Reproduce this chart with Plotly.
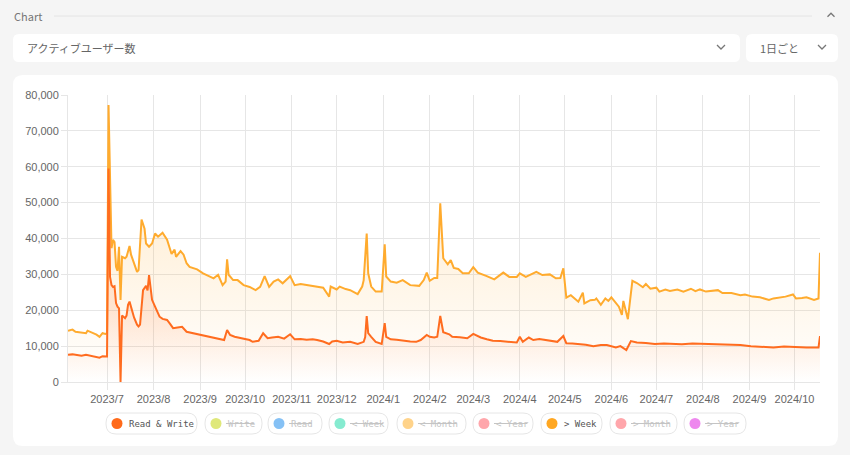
import plotly.graph_objects as go

# ---------------- data ----------------
rw_dates = ["2023-06-05","2023-06-08","2023-06-11","2023-06-14","2023-06-17","2023-06-20","2023-06-23","2023-06-26","2023-06-28","2023-06-30",
    "2023-07-01","2023-07-02","2023-07-03","2023-07-04","2023-07-05","2023-07-06","2023-07-07","2023-07-08","2023-07-09","2023-07-10",
    "2023-07-11","2023-07-12","2023-07-13","2023-07-14","2023-07-15","2023-07-16","2023-07-17","2023-07-19","2023-07-21","2023-07-22",
    "2023-07-23","2023-07-24","2023-07-25","2023-07-27","2023-07-28","2023-07-29","2023-07-31","2023-08-02","2023-08-05","2023-08-07",
    "2023-08-10","2023-08-12","2023-08-14","2023-08-17","2023-08-20","2023-08-23","2023-08-27","2023-09-01","2023-09-05","2023-09-10",
    "2023-09-14","2023-09-17","2023-09-19","2023-09-21","2023-09-24","2023-09-28","2023-10-01","2023-10-04","2023-10-06","2023-10-10",
    "2023-10-13","2023-10-16","2023-10-19","2023-10-23","2023-10-27","2023-10-31","2023-11-03","2023-11-07","2023-11-11","2023-11-15",
    "2023-11-18","2023-11-22","2023-11-26","2023-11-28","2023-12-01","2023-12-05","2023-12-10","2023-12-13","2023-12-15","2023-12-19",
    "2023-12-20","2023-12-21","2023-12-22","2023-12-24","2023-12-27","2023-12-31","2024-01-02","2024-01-03","2024-01-06","2024-01-10",
    "2024-01-14","2024-01-19","2024-01-23","2024-01-26","2024-01-30","2024-02-01","2024-02-04","2024-02-06","2024-02-08","2024-02-10",
    "2024-02-14","2024-02-16","2024-02-21","2024-02-26","2024-03-01","2024-03-06","2024-03-10","2024-03-14","2024-03-19","2024-03-23",
    "2024-03-30","2024-04-01","2024-04-03","2024-04-07","2024-04-10","2024-04-14","2024-04-21","2024-04-26","2024-04-30","2024-05-02",
    "2024-05-06","2024-05-11","2024-05-15","2024-05-20","2024-05-25","2024-05-29","2024-06-04","2024-06-07","2024-06-11","2024-06-14",
    "2024-06-18","2024-06-24","2024-06-30","2024-07-06","2024-07-12","2024-07-18","2024-07-25","2024-08-03","2024-08-10","2024-08-18",
    "2024-08-26","2024-09-02","2024-09-09","2024-09-17","2024-09-24","2024-10-01","2024-10-09","2024-10-17","2024-10-18"]
rw_values = [7600,7700,7500,7300,7600,7300,7100,6800,7200,7000,
    7100,59500,29300,27000,26500,26700,22000,21000,20500,0,
    18500,18200,17800,18500,21500,22400,21000,18000,16000,15500,
    16000,21000,25600,26800,25500,29800,22900,21000,18200,17600,
    17300,16200,15000,15200,15400,14000,13600,13100,12700,12200,
    11900,11700,14500,13100,12600,12200,11900,11700,11200,11500,
    13600,12200,12400,12600,12100,13300,11900,12000,11800,11900,
    11700,11300,10600,11300,11500,11000,11200,10900,10600,11200,
    12500,18400,13600,12600,11200,10600,16400,12600,11900,11800,
    11500,11300,11200,11700,13100,12600,12400,12600,18400,13900,
    13300,12600,12500,12200,13400,12400,11900,11500,11400,11200,
    11000,12600,11200,12400,11700,12000,11500,11200,12800,10800,
    10700,10600,10400,10000,10300,10300,9600,10000,8900,11400,
    11000,10900,10600,10700,10600,10500,10700,10600,10400,10500,
    10300,10000,9800,9600,9900,9700,9600,9600,12800]

wk_dates = ["2023-06-05","2023-06-08","2023-06-10","2023-06-13","2023-06-15","2023-06-17","2023-06-18","2023-06-21","2023-06-24","2023-06-26",
    "2023-06-28","2023-06-30","2023-07-01","2023-07-02","2023-07-04","2023-07-05","2023-07-06","2023-07-07","2023-07-08","2023-07-09",
    "2023-07-10","2023-07-11","2023-07-13","2023-07-14","2023-07-16","2023-07-17","2023-07-19","2023-07-21","2023-07-22","2023-07-24",
    "2023-07-26","2023-07-27","2023-07-29","2023-07-31","2023-08-02","2023-08-04","2023-08-07","2023-08-10","2023-08-13","2023-08-15",
    "2023-08-16","2023-08-19","2023-08-21","2023-08-23","2023-08-25","2023-08-30","2023-09-03","2023-09-07","2023-09-10","2023-09-13",
    "2023-09-16","2023-09-18","2023-09-19","2023-09-20","2023-09-23","2023-09-26","2023-09-30","2023-10-04","2023-10-08","2023-10-11",
    "2023-10-14","2023-10-17","2023-10-20","2023-10-23","2023-10-26","2023-10-31","2023-11-03","2023-11-07","2023-11-11","2023-11-15",
    "2023-11-18","2023-11-22","2023-11-26","2023-11-27","2023-12-01","2023-12-03","2023-12-07","2023-12-10","2023-12-15","2023-12-18",
    "2023-12-19","2023-12-21","2023-12-22","2023-12-24","2023-12-27","2023-12-31","2024-01-02","2024-01-03","2024-01-06","2024-01-10",
    "2024-01-14","2024-01-19","2024-01-25","2024-01-28","2024-01-30","2024-02-01","2024-02-04","2024-02-06","2024-02-08","2024-02-10",
    "2024-02-13","2024-02-15","2024-02-17","2024-02-20","2024-02-23","2024-02-27","2024-03-01","2024-03-04","2024-03-10","2024-03-15",
    "2024-03-21","2024-03-25","2024-03-30","2024-04-01","2024-04-05","2024-04-12","2024-04-16","2024-04-21","2024-04-25","2024-04-28",
    "2024-04-30","2024-05-02","2024-05-05","2024-05-09","2024-05-10","2024-05-13","2024-05-14","2024-05-18","2024-05-21","2024-05-22",
    "2024-05-25","2024-05-28","2024-05-30","2024-06-01","2024-06-03","2024-06-06","2024-06-08","2024-06-09","2024-06-12","2024-06-13",
    "2024-06-15","2024-06-18","2024-06-22","2024-06-24","2024-06-27","2024-07-01","2024-07-03","2024-07-07","2024-07-10","2024-07-15",
    "2024-07-19","2024-07-24","2024-07-27","2024-07-30","2024-08-03","2024-08-11","2024-08-14","2024-08-20","2024-08-26","2024-08-29",
    "2024-09-03","2024-09-08","2024-09-14","2024-09-17","2024-09-25","2024-09-30","2024-10-02","2024-10-06","2024-10-09","2024-10-14",
    "2024-10-17","2024-10-18"]
wk_values = [14300,14600,14000,13900,13700,13600,14300,13800,13200,12600,
    13600,13400,13600,77200,37300,39600,39000,32100,31000,37700,
    22900,34900,34500,34900,37900,35500,33000,30700,31200,45300,
    42700,38600,37700,38600,41400,40500,41600,39700,35700,36900,
    34900,36500,35500,33100,32100,31400,30300,29600,28900,29900,
    27000,28000,34200,29900,28400,28400,27000,26500,25600,26500,
    29500,26500,28000,28600,27500,29500,27000,27300,27000,26800,
    26600,26300,23800,26600,25800,26600,25900,25600,24500,26600,
    28400,41400,30300,26600,25200,25200,38400,29400,28000,27700,
    28400,27000,26800,28400,30500,28200,29000,29000,49800,34500,
    32800,34000,31800,31500,30300,30300,32000,30500,29500,28600,
    30500,29300,29300,30300,29300,30700,29800,30000,28900,29000,
    31700,23500,24200,22900,22400,24900,21900,22800,22900,23300,
    21500,23300,22600,23600,22500,21000,18700,22600,17500,20700,
    28200,27600,26400,27300,26000,26300,25200,25800,25400,25800,
    25200,26000,25300,25800,25200,25600,24800,24800,24200,24400,
    23800,23600,22900,23300,23800,24400,23300,23400,23600,22900,
    23300,36000]

tick_dates = ["2023-07-01","2023-08-01","2023-09-01","2023-10-01","2023-11-01","2023-12-01","2024-01-01","2024-02-01",
              "2024-03-01","2024-04-01","2024-05-01","2024-06-01","2024-07-01","2024-08-01","2024-09-01","2024-10-01"]
tick_labels = ["2023/7","2023/8","2023/9","2023/10","2023/11","2023/12","2024/1","2024/2",
               "2024/3","2024/4","2024/5","2024/6","2024/7","2024/8","2024/9","2024/10"]

legend_names = ["Read & Write","Write","Read","< Week","< Month","< Year","> Week","> Month","> Year"]
legend_colors = ["#ff6a1a","#dfe87a","#85c1f5","#86ebd0","#ffd38a","#ffa6ab","#ffa722","#ffa6ab","#ee88ee"]
legend_active = [True,False,False,False,False,False,True,False,False]

title_text = "Chart"
metric_text = "アクティブユーザー数"
period_text = "1日ごと"

# ---------------- layout helpers ----------------
W, H = 850, 455
def fx(x): return x / W
def fy(y): return 1 - y / H

def rrect(x0, y0, x1, y1, r):
    return (f"M {fx(x0+r)},{fy(y0)} L {fx(x1-r)},{fy(y0)} Q {fx(x1)},{fy(y0)} {fx(x1)},{fy(y0+r)} "
            f"L {fx(x1)},{fy(y1-r)} Q {fx(x1)},{fy(y1)} {fx(x1-r)},{fy(y1)} "
            f"L {fx(x0+r)},{fy(y1)} Q {fx(x0)},{fy(y1)} {fx(x0)},{fy(y1-r)} "
            f"L {fx(x0)},{fy(y0+r)} Q {fx(x0)},{fy(y0)} {fx(x0+r)},{fy(y0)} Z")

def chevron(cx, cy, w=4, h=3, up=False):
    s = -1 if up else 1
    return f"M {fx(cx-w)},{fy(cy-s*h/2)} L {fx(cx)},{fy(cy+s*h/2)} L {fx(cx+w)},{fy(cy-s*h/2)}"

fig = go.Figure()

fig.add_trace(go.Scatter(
    x=wk_dates, y=wk_values, mode="lines", name="> Week",
    line=dict(color="#ffab2e", width=2),
    fill="tozeroy",
    fillgradient=dict(type="vertical", start=0, stop=40000,
                      colorscale=[[0, "rgba(255,171,46,0)"], [1, "rgba(255,171,46,0.16)"]]),
    showlegend=False, hoverinfo="skip"))
fig.add_trace(go.Scatter(
    x=rw_dates, y=rw_values, mode="lines", name="Read & Write",
    line=dict(color="#ff6c1f", width=2),
    fill="tozeroy",
    fillgradient=dict(type="vertical", start=0, stop=20000,
                      colorscale=[[0, "rgba(255,108,31,0)"], [1, "rgba(255,108,31,0.14)"]]),
    showlegend=False, hoverinfo="skip"))

shapes = []
# header line & caret
shapes.append(dict(type="line", xref="paper", yref="paper", x0=fx(54), x1=fx(812), y0=fy(16), y1=fy(16),
                   line=dict(color="#e4e4e4", width=1)))
shapes.append(dict(type="path", xref="paper", yref="paper", path=chevron(831, 15, 3.5, 3.5, up=True),
                   line=dict(color="#777", width=1.3)))
# dropdown boxes
shapes.append(dict(type="path", xref="paper", yref="paper", path=rrect(13, 34, 740, 62, 6),
                   fillcolor="white", line=dict(width=0), layer="below"))
shapes.append(dict(type="path", xref="paper", yref="paper", path=rrect(746, 34, 838, 62, 6),
                   fillcolor="white", line=dict(width=0), layer="below"))
shapes.append(dict(type="path", xref="paper", yref="paper", path=chevron(721, 47, 4, 4),
                   line=dict(color="#777", width=1.3)))
shapes.append(dict(type="path", xref="paper", yref="paper", path=chevron(822, 47, 4, 4),
                   line=dict(color="#777", width=1.3)))
# chart card
shapes.append(dict(type="path", xref="paper", yref="paper", path=rrect(13, 75, 838, 446, 10),
                   fillcolor="white", line=dict(width=0), layer="below"))

annotations = [
    dict(text=title_text, x=fx(12), y=fy(16), xref="paper", yref="paper", xanchor="left", yanchor="middle",
         showarrow=False, font=dict(family="Noto Sans CJK JP", size=11, color="#777")),
    dict(text=metric_text, x=fx(25), y=fy(48), xref="paper", yref="paper", xanchor="left", yanchor="middle",
         showarrow=False, font=dict(family="Noto Sans CJK JP", size=11, color="#666")),
    dict(text=period_text, x=fx(758), y=fy(48), xref="paper", yref="paper", xanchor="left", yanchor="middle",
         showarrow=False, font=dict(family="Noto Sans CJK JP", size=11, color="#666")),
]

# legend pills
pill_x = [(106, 197), (205, 262), (268, 322), (329, 388), (397, 466), (473, 533), (541, 602), (610, 677), (684, 746)]
py0, py1 = 413, 434
cy = (py0 + py1) / 2
charw = 5.4
for (x0, x1), name, col, act in zip(pill_x, legend_names, legend_colors, legend_active):
    shapes.append(dict(type="path", xref="paper", yref="paper", path=rrect(x0, py0, x1, py1, 10),
                       fillcolor="white", line=dict(color="#e6e6e6", width=1)))
    ccx = x0 + 11
    shapes.append(dict(type="circle", xref="paper", yref="paper", x0=fx(ccx - 5.5), x1=fx(ccx + 5.5),
                       y0=fy(cy + 5.5), y1=fy(cy - 5.5), fillcolor=col, line=dict(width=0)))
    tx = x0 + 21
    tcol = "#555" if act else "#c4c4c4"
    annotations.append(dict(text=name, x=fx(tx), y=fy(cy), xref="paper", yref="paper", xanchor="left",
                            yanchor="middle", showarrow=False,
                            font=dict(family="DejaVu Sans Mono", size=9, color=tcol)))
    if not act:
        shapes.append(dict(type="line", xref="paper", yref="paper", x0=fx(tx), x1=fx(tx + charw * len(name) + 1),
                           y0=fy(cy), y1=fy(cy), line=dict(color="#c4c4c4", width=1)))

grid = "#e6e6e6"
fig.update_layout(
    width=W, height=H,
    margin=dict(l=0, r=0, t=0, b=0),
    paper_bgcolor="#f5f5f5", plot_bgcolor="rgba(0,0,0,0)",
    shapes=shapes, annotations=annotations,
    showlegend=False,
    xaxis=dict(domain=[fx(68), fx(820)], type="date", range=["2023-06-05", "2024-10-18"],
               tickvals=tick_dates, ticktext=tick_labels, showgrid=True, gridcolor=grid, gridwidth=1,
               ticks="outside", ticklen=7, tickcolor=grid, showline=True, linecolor=grid, linewidth=1,
               tickfont=dict(family="Liberation Sans", size=11, color="#666"), automargin=False,
               zeroline=False, fixedrange=True),
    yaxis=dict(domain=[fy(382), fy(95)], range=[0, 80000], tickvals=[0,10000,20000,30000,40000,50000,60000,70000,80000],
               tickformat=",d", showgrid=True, gridcolor=grid, gridwidth=1,
               ticks="outside", ticklen=6, tickcolor=grid, showline=True, linecolor=grid, linewidth=1,
               tickfont=dict(family="Liberation Sans", size=11, color="#666"), automargin=False,
               zeroline=False, fixedrange=True),
)

fig.write_html("out.html")
